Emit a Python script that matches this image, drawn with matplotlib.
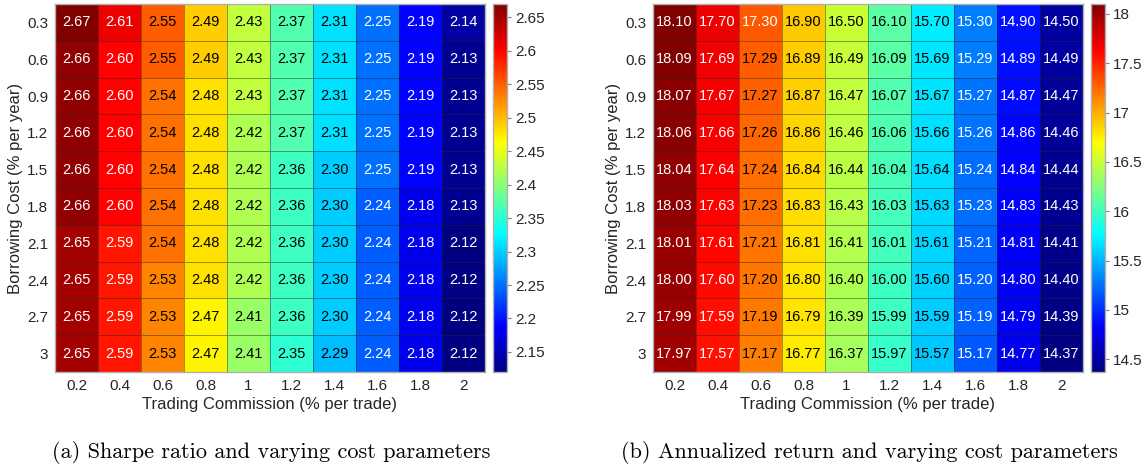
import numpy as np
import matplotlib
matplotlib.use("Agg")
import matplotlib.pyplot as plt
from matplotlib.colors import LinearSegmentedColormap

plt.rcParams['font.family'] = ['Liberation Sans', 'DejaVu Sans']

# data
commission = ["0.2", "0.4", "0.6", "0.8", "1", "1.2", "1.4", "1.6", "1.8", "2"]
borrowing = ["0.3", "0.6", "0.9", "1.2", "1.5", "1.8", "2.1", "2.4", "2.7", "3"]

sharpe = [
    [2.67, 2.61, 2.55, 2.49, 2.43, 2.37, 2.31, 2.25, 2.19, 2.14],
    [2.66, 2.60, 2.55, 2.49, 2.43, 2.37, 2.31, 2.25, 2.19, 2.13],
    [2.66, 2.60, 2.54, 2.48, 2.43, 2.37, 2.31, 2.25, 2.19, 2.13],
    [2.66, 2.60, 2.54, 2.48, 2.42, 2.37, 2.31, 2.25, 2.19, 2.13],
    [2.66, 2.60, 2.54, 2.48, 2.42, 2.36, 2.30, 2.25, 2.19, 2.13],
    [2.66, 2.60, 2.54, 2.48, 2.42, 2.36, 2.30, 2.24, 2.18, 2.13],
    [2.65, 2.59, 2.54, 2.48, 2.42, 2.36, 2.30, 2.24, 2.18, 2.12],
    [2.65, 2.59, 2.53, 2.48, 2.42, 2.36, 2.30, 2.24, 2.18, 2.12],
    [2.65, 2.59, 2.53, 2.47, 2.41, 2.36, 2.30, 2.24, 2.18, 2.12],
    [2.65, 2.59, 2.53, 2.47, 2.41, 2.35, 2.29, 2.24, 2.18, 2.12],
]

annual = [
    [18.10, 17.70, 17.30, 16.90, 16.50, 16.10, 15.70, 15.30, 14.90, 14.50],
    [18.09, 17.69, 17.29, 16.89, 16.49, 16.09, 15.69, 15.29, 14.89, 14.49],
    [18.07, 17.67, 17.27, 16.87, 16.47, 16.07, 15.67, 15.27, 14.87, 14.47],
    [18.06, 17.66, 17.26, 16.86, 16.46, 16.06, 15.66, 15.26, 14.86, 14.46],
    [18.04, 17.64, 17.24, 16.84, 16.44, 16.04, 15.64, 15.24, 14.84, 14.44],
    [18.03, 17.63, 17.23, 16.83, 16.43, 16.03, 15.63, 15.23, 14.83, 14.43],
    [18.01, 17.61, 17.21, 16.81, 16.41, 16.01, 15.61, 15.21, 14.81, 14.41],
    [18.00, 17.60, 17.20, 16.80, 16.40, 16.00, 15.60, 15.20, 14.80, 14.40],
    [17.99, 17.59, 17.19, 16.79, 16.39, 15.99, 15.59, 15.19, 14.79, 14.39],
    [17.97, 17.57, 17.17, 16.77, 16.37, 15.97, 15.57, 15.17, 14.77, 14.37],
]

sharpe_cb = [2.15, 2.2, 2.25, 2.3, 2.35, 2.4, 2.45, 2.5, 2.55, 2.6, 2.65]
sharpe_cb_lbl = ["2.15", "2.2", "2.25", "2.3", "2.35", "2.4", "2.45", "2.5", "2.55", "2.6", "2.65"]
annual_cb = [14.5, 15, 15.5, 16, 16.5, 17, 17.5, 18]
annual_cb_lbl = ["14.5", "15", "15.5", "16", "16.5", "17", "17.5", "18"]

W, H = 1142, 468
TXT = '#262626'

# MATLAB-style jet
mjet = LinearSegmentedColormap('mjet', {
    'red':   [(0, 0, 0), (0.375, 0, 0), (0.625, 1, 1), (0.875, 1, 1), (1, 0.5, 0.5)],
    'green': [(0, 0, 0), (0.125, 0, 0), (0.375, 1, 1), (0.625, 1, 1), (0.875, 0, 0), (1, 0, 0)],
    'blue':  [(0, 0.5, 0.5), (0.125, 1, 1), (0.375, 1, 1), (0.625, 0, 0), (1, 0, 0)],
}, N=256)


def box(x0, y0, x1, y1):
    # pixel box -> figure fraction
    return [x0 / W, 1 - y1 / H, (x1 - x0) / W, (y1 - y0) / H]


def heatmap(ax, cax, vals, cb_ticks, cb_labels):
    v = np.array(vals)
    vmin, vmax = v.min(), v.max()
    mesh = ax.pcolormesh(np.arange(11), np.arange(11), v, cmap=mjet, vmin=vmin, vmax=vmax,
                         edgecolors=(0.15, 0.15, 0.15, 0.45), linewidth=0.6)
    ax.set_xlim(0, 10)
    ax.set_ylim(10, 0)
    for i in range(10):
        for j in range(10):
            n = (v[i, j] - vmin) / (vmax - vmin)
            col = 'white' if (n < 0.28 or n > 0.784) else 'black'
            ax.text(j + 0.5, i + 0.5, f"{v[i, j]:.2f}", ha='center', va='center',
                    color=col, fontsize=10.5)
    ax.set_xticks(np.arange(10) + 0.5)
    ax.set_xticklabels(commission)
    ax.set_yticks(np.arange(10) + 0.5)
    ax.set_yticklabels(borrowing)
    ax.tick_params(length=0, labelsize=11, labelcolor=TXT, pad=5)
    for s in ax.spines.values():
        s.set_edgecolor('#b0b0b0')
        s.set_linewidth(1)
    ax.set_xlabel("Trading Commission (% per trade)", fontsize=12, color=TXT, labelpad=3)
    ax.set_ylabel("Borrowing Cost (% per year)", fontsize=12, color=TXT, labelpad=3)

    cb = plt.colorbar(mesh, cax=cax, ticks=cb_ticks)
    cb.ax.set_yticklabels(cb_labels)
    cb.ax.tick_params(length=3, width=0.8, color='#808080', labelsize=11, labelcolor=TXT, pad=3)
    cb.outline.set_edgecolor('#b0b0b0')
    cb.outline.set_linewidth(1)


fig = plt.figure(figsize=(W / 100, H / 100), dpi=100)

ax1 = fig.add_axes(box(55, 4, 485, 372))
cax1 = fig.add_axes(box(493, 4, 507, 372))
heatmap(ax1, cax1, sharpe, sharpe_cb, sharpe_cb_lbl)

ax2 = fig.add_axes(box(653, 4, 1083, 372))
cax2 = fig.add_axes(box(1091, 4, 1105, 372))
heatmap(ax2, cax2, annual, annual_cb, annual_cb_lbl)

fig.text(271 / W, 1 - 453 / H, "(a) Sharpe ratio and varying cost parameters",
         family='cmr10', fontsize=16, ha='center', va='center')
fig.text(869 / W, 1 - 453 / H, "(b) Annualized return and varying cost parameters",
         family='cmr10', fontsize=16, ha='center', va='center')

fig.savefig("out.png", dpi=100)
